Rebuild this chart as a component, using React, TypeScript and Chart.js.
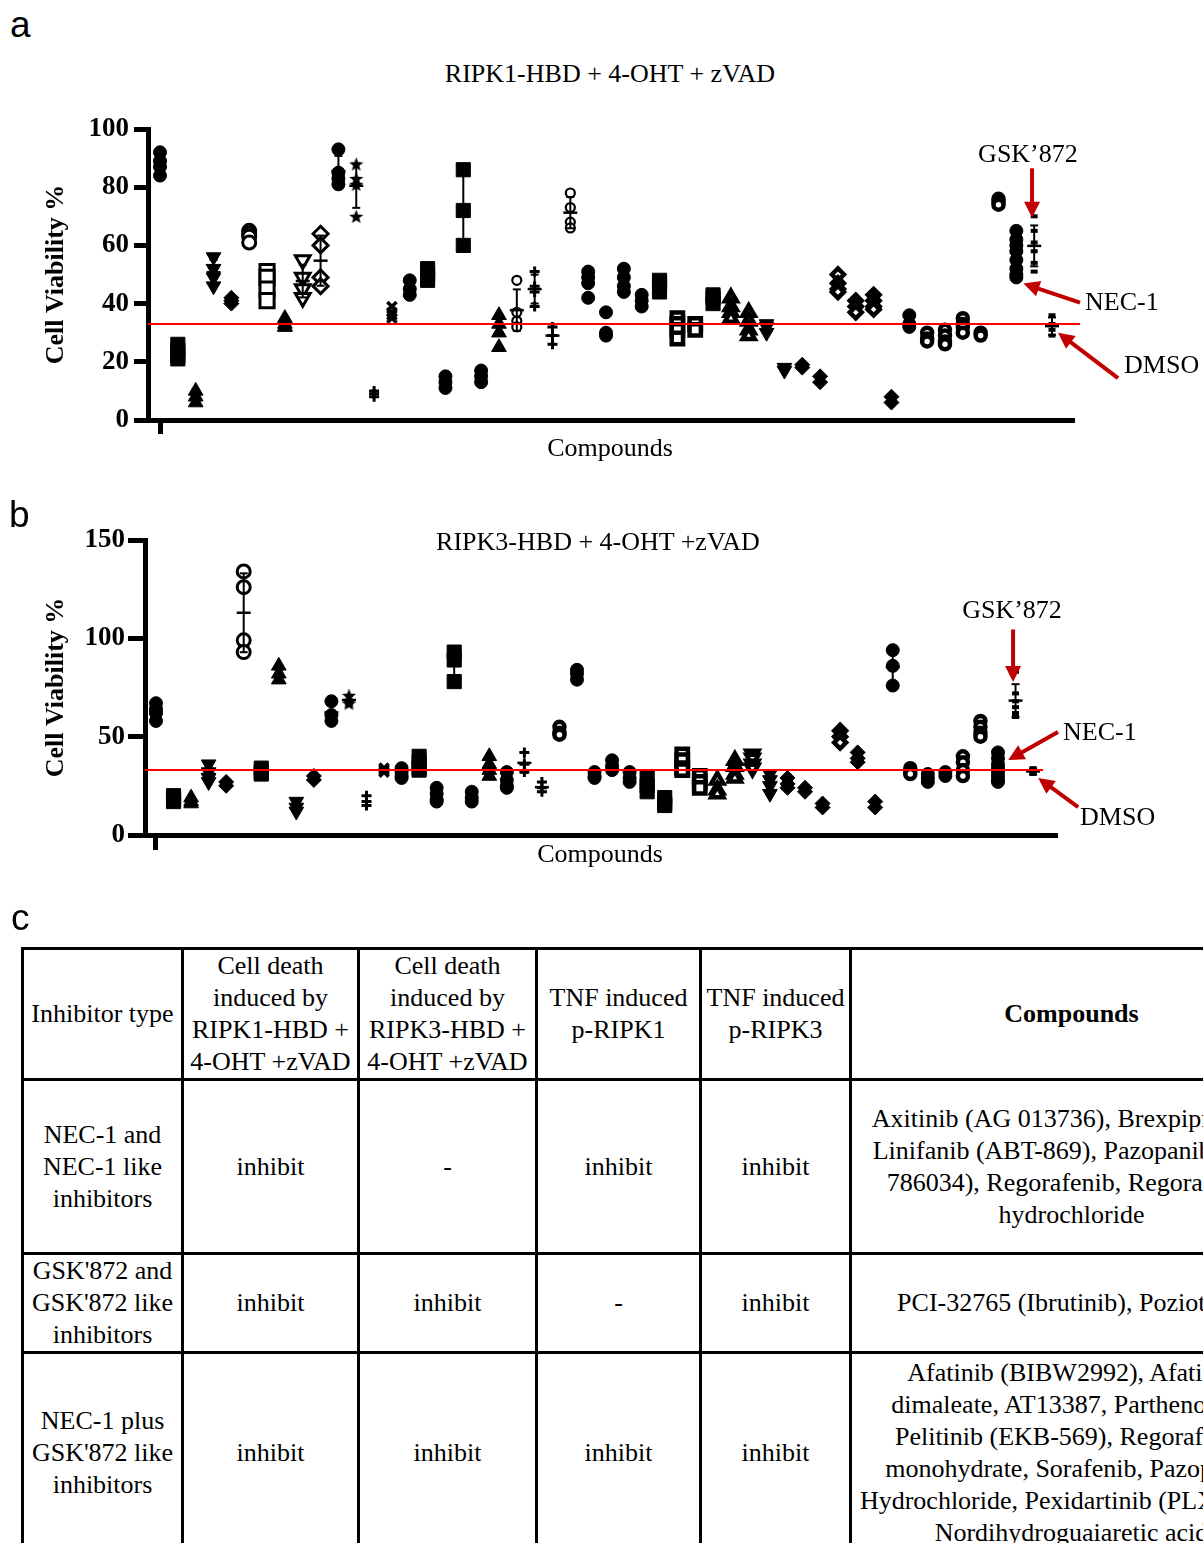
import React, { useEffect, useRef } from 'react';
import { Chart, registerables } from 'chart.js';

Chart.register(...registerables);

const SERIF = '"Liberation Serif", "Times New Roman", serif';
const SANS = '"Liberation Sans", Arial, sans-serif';

// ---------------- Panel a: RIPK1-HBD + 4-OHT + zVAD ----------------
const titleA = 'RIPK1-HBD + 4-OHT + zVAD';
const yTicksA = [0, 20, 40, 60, 80, 100];
const viabilityA: number[][] = [
  [92, 89, 87, 84], [26, 24, 22, 21], [10, 8, 6], [56, 52, 49, 46], [42, 41, 40],
  [65, 64, 63, 61], [51, 49, 45, 41], [35, 33, 32, 32], [55, 49, 45, 42], [64, 60, 49, 46],
  [93, 85, 83, 81], [88, 83, 81, 70], [10, 9, 8], [39, 37, 36, 35], [48, 45, 43],
  [52, 50, 48], [15, 13, 11], [86, 72, 60], [17, 15, 13], [36, 33, 30, 25],
  [48, 37, 34, 32], [51, 46, 44, 39], [32, 29, 26], [78, 73, 68, 66], [51, 49, 47, 42],
  [37, 30, 29], [52, 49, 46, 44], [43, 41, 39], [48, 47, 44], [35, 33, 31, 28],
  [33, 31], [43, 42, 40], [42, 39, 37, 35], [37, 34, 31, 29], [33, 32, 30],
  [18, 17], [19, 18], [15, 13], [50, 47, 45, 44], [41, 39, 37],
  [43, 41, 39, 38], [8, 6], [36, 33, 32], [30, 28, 27], [31, 29, 27, 26],
  [35, 33, 32, 30], [30, 29], [76, 75, 74],
  [65, 62, 60, 58, 55, 52, 50, 49], // NEC-1
  [70, 65, 61, 58, 54, 51], // GSK'872
  [36, 33, 31, 29], // DMSO
];
const markersA: string[] = [
  'circle', 'square', 'tri', 'tridown', 'diamond', 'circle.open', 'square.open', 'tri', 'tridown.open', 'diamond.open',
  'circle', 'star', 'plus', 'cross', 'circle', 'square', 'circle', 'square', 'circle', 'tri',
  'circle.small', 'plus', 'plus', 'circle.small', 'circle', 'circle', 'circle', 'circle', 'square', 'square.bold',
  'square.bold', 'square', 'tri.bold', 'tri.bold', 'tridown', 'tridown', 'diamond', 'diamond', 'diamond.bold', 'diamond.bold',
  'diamond.bold', 'diamond', 'circle', 'circle.bold', 'circle.bold', 'circle.bold', 'circle.bold', 'circle.bold', 'circle', 'dash',
  'dash',
];
const errorBarsA = [3, 8, 9, 10, 11, 17, 20, 21, 22, 23, 49, 50];
const thresholdA = 33;

// ---------------- Panel b: RIPK3-HBD + 4-OHT +zVAD ----------------
const titleB = 'RIPK3-HBD + 4-OHT +zVAD';
const yTicksB = [0, 50, 100, 150];
const viabilityB: number[][] = [
  [67, 64, 62, 58], [20, 18, 17], [19, 17, 16], [36, 32, 29, 27], [27, 25],
  [134, 126, 99, 93], [34, 32, 31], [86, 82, 79], [17, 14, 12], [30, 28],
  [68, 61, 58], [71, 68, 67], [20, 17, 15], [34, 33, 32], [34, 32, 30, 29],
  [40, 37, 34, 33], [24, 21, 18, 17], [93, 89, 78], [22, 19, 17], [40, 36, 33, 30],
  [32, 28, 25, 24], [42, 36, 32], [27, 24, 22], [55, 52, 51], [84, 82, 79],
  [32, 30, 29], [38, 35, 33], [32, 29, 27], [29, 25, 22], [19, 16, 15],
  [41, 38, 34, 33], [30, 27, 24], [28, 23, 21], [38, 35, 31, 29], [41, 39, 36, 34],
  [31, 28, 25, 21], [29, 26, 24], [24, 22], [16, 14], [53, 50, 47],
  [42, 39, 37], [17, 14], [94, 86, 76], [34, 32, 31], [31, 29, 27],
  [32, 30], [40, 37, 33, 30], [58, 55, 52, 50],
  [42, 39, 36, 34, 32, 30, 28, 27], // NEC-1
  [83, 72, 68, 65, 62, 60], // GSK'872
  [34, 32, 31], // DMSO
];
const markersB: string[] = [
  'circle', 'square', 'tri', 'tridown', 'diamond', 'circle.open', 'square', 'tri', 'tridown', 'diamond',
  'circle', 'star', 'plus', 'cross', 'circle', 'square', 'circle', 'square', 'circle', 'tri',
  'circle', 'plus', 'plus', 'circle.bold', 'circle', 'circle', 'circle', 'circle', 'square', 'square',
  'square.bold', 'square.bold', 'tri.bold', 'tri.bold', 'tridown.bold', 'tridown', 'diamond', 'diamond', 'diamond', 'diamond.bold',
  'diamond', 'diamond', 'circle', 'circle.bold', 'circle', 'circle', 'circle.bold', 'circle.bold', 'circle', 'dash',
  'dash',
];
const errorBarsB = [3, 5, 10, 11, 17, 21, 22, 42, 49, 50];
const thresholdB = 33;

// ---------------- Annotations (data coordinates) ----------------
type Annotation = {
  label: string;
  textAt: [number, number];
  align: CanvasTextAlign;
  arrowFrom: [number, number];
  arrowTo: [number, number];
};
const annotationsA: Annotation[] = [
  { label: 'GSK\u2019872', textAt: [48.65, 91.1], align: 'center', arrowFrom: [48.88, 86.5], arrowTo: [48.88, 69.5] },
  { label: 'NEC-1', textAt: [51.85, 40.2], align: 'left', arrowFrom: [51.57, 40.3], arrowTo: [48.4, 46.9] },
  { label: 'DMSO', textAt: [54.04, 18.6], align: 'left', arrowFrom: [53.7, 14.4], arrowTo: [50.34, 30.0] },
];
const annotationsB: Annotation[] = [
  { label: 'GSK\u2019872', textAt: [48.8, 113.6], align: 'center', arrowFrom: [48.86, 104.5], arrowTo: [48.86, 77.8] },
  { label: 'NEC-1', textAt: [51.71, 51.6], align: 'left', arrowFrom: [51.42, 52.4], arrowTo: [48.58, 38.1] },
  { label: 'DMSO', textAt: [52.68, 8.6], align: 'left', arrowFrom: [52.57, 14.2], arrowTo: [50.29, 29.0] },
];

// ---------------- Panel c table ----------------
const tableHeaders = [
  'Inhibitor type',
  'Cell death\ninduced by\nRIPK1-HBD +\n4-OHT +zVAD',
  'Cell death\ninduced by\nRIPK3-HBD +\n4-OHT +zVAD',
  'TNF induced\np-RIPK1',
  'TNF induced\np-RIPK3',
  'Compounds',
];
const inhibitorTypes = [
  'NEC-1 and\nNEC-1 like\ninhibitors',
  "GSK'872 and\nGSK'872 like\ninhibitors",
  "NEC-1 plus\nGSK'872 like\ninhibitors",
];
const ripk1Death = ['inhibit', 'inhibit', 'inhibit'];
const ripk3Death = ['-', 'inhibit', 'inhibit'];
const pRipk1 = ['inhibit', '-', 'inhibit'];
const pRipk3 = ['inhibit', 'inhibit', 'inhibit'];
const compoundLists = [
  'Axitinib (AG 013736), Brexpiprazole,\nLinifanib (ABT-869), Pazopanib (GW\n786034), Regorafenib, Regorafenib\nhydrochloride',
  'PCI-32765 (Ibrutinib), Poziotinib',
  'Afatinib (BIBW2992), Afatinib\ndimaleate, AT13387, Parthenolide,\nPelitinib (EKB-569), Regorafenib\nmonohydrate, Sorafenib, Pazopanib\nHydrochloride, Pexidartinib (PLX3397),\nNordihydroguaiaretic acid',
];

// table layout
const colEdges = [22, 182, 358, 536, 700, 850, 1292];
const rowEdges = [948, 1079, 1253, 1352, 1552];

// ---------------- helpers ----------------
function meanSd(vals: number[]) {
  const n = vals.length;
  const mean = vals.reduce((a, b) => a + b, 0) / n;
  const sd = n > 1 ? Math.sqrt(vals.reduce((a, b) => a + (b - mean) * (b - mean), 0) / (n - 1)) : 0;
  return { mean, sd };
}

function makeStarImage(size: number) {
  const c = document.createElement('canvas');
  c.width = size;
  c.height = size;
  const ctx = c.getContext('2d')!;
  const cx = size / 2;
  const cy = size / 2 + 0.8;
  ctx.beginPath();
  for (let i = 0; i < 10; i++) {
    const ang = -Math.PI / 2 + (i * Math.PI) / 5;
    const r = i % 2 === 0 ? size / 2 : (size / 2) * 0.42;
    const px = cx + r * Math.cos(ang);
    const py = cy + r * Math.sin(ang);
    if (i === 0) ctx.moveTo(px, py);
    else ctx.lineTo(px, py);
  }
  ctx.closePath();
  ctx.fillStyle = '#000';
  ctx.fill();
  return c;
}

function markerOptions(code: string, star: HTMLCanvasElement) {
  const [shape, variant = 'fill'] = code.split('.');
  let pointStyle: any = 'circle';
  let radius = 6.5;
  let rotation = 0;
  let bw = 1;
  let bg = '#000';
  switch (shape) {
    case 'circle': pointStyle = 'circle'; radius = 6.5; break;
    case 'square': pointStyle = 'rect'; radius = 10; break;
    case 'tri': pointStyle = 'triangle'; radius = 8.5; break;
    case 'tridown': pointStyle = 'triangle'; radius = 8.5; rotation = 180; break;
    case 'diamond': pointStyle = 'rectRot'; radius = 7.5; break;
    case 'star': pointStyle = star; radius = 7; break;
    case 'plus': pointStyle = 'cross'; radius = 5; bw = 3; break;
    case 'cross': pointStyle = 'crossRot'; radius = 6.5; bw = 3.5; break;
    case 'dash': pointStyle = 'line'; radius = 3.5; bw = 4; break;
  }
  if (variant === 'open') { bg = '#fff'; bw = 3; }
  if (variant === 'bold') { bg = '#fff'; bw = 4.5; radius -= shape === 'square' ? 2 : 1.5; }
  if (variant === 'small') { bg = '#fff'; bw = 2.2; radius = 4.5; }
  return { pointStyle, radius, rotation, bw, bg };
}

type PanelConfig = {
  values: number[][];
  markers: string[];
  errorIdx: number[];
  threshold: number;
  yTicks: number[];
  xMin: number;
  xMax: number;
  redEnd: number;
  yWidth: number;
  xHeight: number;
  padTop: number;
  padRight: number;
  tickLen: number;
  xTickLen: number;
  tickPad: number;
  xTitlePad: number;
  annotations: Annotation[];
};

function buildChart(canvas: HTMLCanvasElement, p: PanelConfig, star: HTMLCanvasElement) {
  const datasets: any[] = [];
  // threshold (DMSO level) line
  datasets.push({
    data: [{ x: p.xMin, y: p.threshold }, { x: p.redEnd, y: p.threshold }],
    showLine: true,
    borderColor: '#ff0000',
    borderWidth: 2,
    pointRadius: 0,
    clip: false,
  });
  // mean ± SD
  p.errorIdx.forEach((i) => {
    const { mean, sd } = meanSd(p.values[i]);
    datasets.push({
      data: [{ x: i, y: mean - sd }, { x: i, y: mean + sd }],
      showLine: true,
      borderColor: '#000',
      borderWidth: 2,
      pointStyle: 'line',
      pointRadius: 4,
      pointBorderWidth: 2,
      pointBorderColor: '#000',
    });
    datasets.push({
      data: [{ x: i, y: mean }],
      pointStyle: 'line',
      pointRadius: 7,
      pointBorderWidth: 2.5,
      pointBorderColor: '#000',
    });
  });
  // replicate points
  p.values.forEach((vals, i) => {
    const m = markerOptions(p.markers[i], star);
    datasets.push({
      data: vals.map((v) => ({ x: i, y: v })),
      pointStyle: m.pointStyle,
      pointRadius: m.radius,
      pointRotation: m.rotation,
      pointBackgroundColor: m.bg,
      pointBorderColor: '#000',
      pointBorderWidth: m.bw,
    });
  });

  const annotationPlugin = {
    id: 'arrowsAndLabels',
    afterDatasetsDraw(chart: any) {
      const ctx = chart.ctx as CanvasRenderingContext2D;
      const xs = chart.scales.x;
      const ys = chart.scales.y;
      ctx.save();
      p.annotations.forEach((a) => {
        const x1 = xs.getPixelForValue(a.arrowFrom[0]);
        const y1 = ys.getPixelForValue(a.arrowFrom[1]);
        const x2 = xs.getPixelForValue(a.arrowTo[0]);
        const y2 = ys.getPixelForValue(a.arrowTo[1]);
        const ang = Math.atan2(y2 - y1, x2 - x1);
        const headLen = 16;
        const headHalf = 8;
        const bx = x2 - headLen * Math.cos(ang);
        const by = y2 - headLen * Math.sin(ang);
        ctx.strokeStyle = '#c00000';
        ctx.fillStyle = '#c00000';
        ctx.lineWidth = 4;
        ctx.beginPath();
        ctx.moveTo(x1, y1);
        ctx.lineTo(bx + 2 * Math.cos(ang), by + 2 * Math.sin(ang));
        ctx.stroke();
        ctx.beginPath();
        ctx.moveTo(x2, y2);
        ctx.lineTo(bx + headHalf * Math.sin(ang), by - headHalf * Math.cos(ang));
        ctx.lineTo(bx - headHalf * Math.sin(ang), by + headHalf * Math.cos(ang));
        ctx.closePath();
        ctx.fill();
        ctx.fillStyle = '#000';
        ctx.font = `26px ${SERIF}`;
        ctx.textAlign = a.align;
        ctx.textBaseline = 'middle';
        ctx.fillText(a.label, xs.getPixelForValue(a.textAt[0]), ys.getPixelForValue(a.textAt[1]));
      });
      ctx.restore();
    },
  };

  const yMax = p.yTicks[p.yTicks.length - 1];
  const yStep = p.yTicks[1] - p.yTicks[0];

  return new Chart(canvas, {
    type: 'scatter',
    data: { datasets },
    plugins: [annotationPlugin],
    options: {
      responsive: false,
      animation: false,
      devicePixelRatio: 1,
      events: [],
      layout: { padding: { left: 0, right: p.padRight, top: p.padTop, bottom: 0 } },
      plugins: { legend: { display: false }, tooltip: { enabled: false }, title: { display: false } },
      scales: {
        x: {
          type: 'linear',
          min: p.xMin,
          max: p.xMax,
          afterBuildTicks: (s: any) => { s.ticks = [{ value: 0 }]; },
          afterFit: (s: any) => { s.height = p.xHeight; },
          ticks: { display: true, callback: () => '' },
          grid: { display: true, drawOnChartArea: false, drawTicks: true, tickLength: p.xTickLen, lineWidth: 5, color: '#000' },
          border: { display: true, width: 5, color: '#000' },
          title: {
            display: true,
            text: 'Compounds',
            color: '#000',
            font: { family: SERIF, size: 26 },
            padding: { top: 0, bottom: p.xTitlePad },
          },
        },
        y: {
          type: 'linear',
          min: 0,
          max: yMax,
          afterFit: (s: any) => { s.width = p.yWidth; },
          ticks: { stepSize: yStep, color: '#000', padding: p.tickPad, font: { family: SERIF, size: 27, weight: 'bold' } },
          grid: { display: true, drawOnChartArea: false, drawTicks: true, tickLength: p.tickLen, lineWidth: 5, color: '#000' },
          border: { display: true, width: 5, color: '#000' },
          title: {
            display: true,
            text: 'Cell Viability %',
            color: '#000',
            font: { family: SERIF, size: 26, weight: 'bold' },
            padding: { top: 41, bottom: 0 },
          },
        },
      },
    } as any,
  });
}

const panelA: PanelConfig = {
  values: viabilityA,
  markers: markersA,
  errorIdx: errorBarsA,
  threshold: thresholdA,
  yTicks: yTicksA,
  xMin: -0.673,
  xMax: 51.12,
  redEnd: 51.57,
  yWidth: 148,
  xHeight: 46,
  padTop: 29,
  padRight: 131,
  tickLen: 14,
  xTickLen: 14,
  tickPad: 5,
  xTitlePad: 1.4,
  annotations: annotationsA,
};

const panelB: PanelConfig = {
  values: viabilityB,
  markers: markersB,
  errorIdx: errorBarsB,
  threshold: thresholdB,
  yTicks: yTicksB,
  xMin: -0.627,
  xMax: 51.25,
  redEnd: 50.57,
  yWidth: 145,
  xHeight: 38,
  padTop: 30,
  padRight: 148,
  tickLen: 17,
  xTickLen: 15,
  tickPad: 3,
  xTitlePad: 2.4,
  annotations: annotationsB,
};

const tableRows = inhibitorTypes.map((t, i) => [t, ripk1Death[i], ripk3Death[i], pRipk1[i], pRipk3[i], compoundLists[i]]);

function PanelLabel({ text, left, top }: { text: string; left: number; top: number }) {
  return (
    <div style={{ position: 'absolute', left, top, fontFamily: SANS, fontSize: 37, lineHeight: '37px', color: '#000' }}>
      {text}
    </div>
  );
}

function ChartTitle({ text, cx, cy }: { text: string; cx: number; cy: number }) {
  return (
    <div
      style={{
        position: 'absolute',
        left: cx,
        top: cy,
        transform: 'translate(-50%, -50%)',
        fontFamily: SERIF,
        fontSize: 26,
        lineHeight: 1,
        whiteSpace: 'nowrap',
        color: '#000',
      }}
    >
      {text}
    </div>
  );
}

export default function App() {
  const refA = useRef<HTMLCanvasElement>(null);
  const refB = useRef<HTMLCanvasElement>(null);

  useEffect(() => {
    document.documentElement.style.overflow = 'hidden';
    document.body.style.overflow = 'hidden';
    const star = makeStarImage(15);
    const a = buildChart(refA.current!, panelA, star);
    const b = buildChart(refB.current!, panelB, star);
    return () => {
      a.destroy();
      b.destroy();
    };
  }, []);

  return (
    <div
      style={{
        position: 'absolute',
        left: 0,
        top: 0,
        width: 1203,
        height: 1543,
        overflow: 'hidden',
        background: '#fff',
        fontFamily: SERIF,
        color: '#000',
      }}
    >
      <canvas ref={refA} width={1203} height={366} style={{ position: 'absolute', left: 0, top: 100 }} />
      <canvas ref={refB} width={1203} height={363} style={{ position: 'absolute', left: 0, top: 510 }} />

      <PanelLabel text="a" left={10} top={6} />
      <PanelLabel text="b" left={9} top={496} />
      <PanelLabel text="c" left={11} top={899} />

      <ChartTitle text={titleA} cx={610} cy={74} />
      <ChartTitle text={titleB} cx={598} cy={542} />

      {rowEdges.slice(0, -1).map((top, r) =>
        colEdges.slice(0, -1).map((left, c) => {
          const text = r === 0 ? tableHeaders[c] : tableRows[r - 1][c];
          return (
            <div
              key={`${r}-${c}`}
              style={{
                position: 'absolute',
                left: left - 1,
                top: top - 1,
                width: colEdges[c + 1] - left + 3,
                height: rowEdges[r + 1] - top + 3,
                border: '3px solid #000',
                boxSizing: 'border-box',
                display: 'flex',
                alignItems: 'center',
                justifyContent: 'center',
                textAlign: 'center',
                whiteSpace: 'pre',
                fontFamily: SERIF,
                fontSize: 26,
                lineHeight: '32px',
                fontWeight: r === 0 && c === 5 ? 'bold' : 'normal',
                overflow: 'hidden',
              }}
            >
              {text}
            </div>
          );
        })
      )}
    </div>
  );
}
